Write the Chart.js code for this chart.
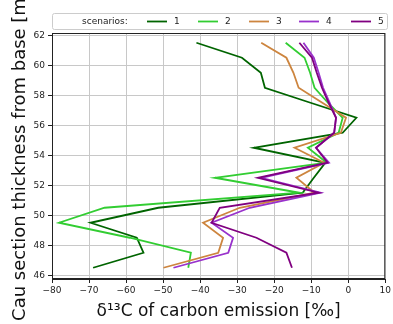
<!DOCTYPE html>
<html>
<head>
<meta charset="utf-8">
<script src="https://cdn.jsdelivr.net/npm/chart.js@4"></script>
<style>
  html, body { margin: 0; padding: 0; background: #fff; }
  #wrap { width: 393px; height: 324px; }
</style>
</head>
<body>
<div id="wrap"><canvas id="chart" width="393" height="324"></canvas></div>
<script>
// section heights (m), shared by all scenarios
const depth = [61.5, 60.5, 59.5, 58.5, 57.5, 56.5, 55.5, 54.5, 53.5, 52.5, 51.5, 50.5, 49.5, 48.5, 47.5, 46.5];

// delta13C of carbon emission (permil) for each scenario
const s1 = [-41.0, -28.7, -23.6, -22.5, -10.2, 2.2, -1.5, -25.5, -6.2, -9.3, -12.3, -51.3, -69.6, -57.1, -55.3, -68.9];
const s2 = [-16.9, -11.8, -10.3, -9.1, -5.5, -1.5, -2.6, -10.9, -5.8, -36.0, -13.2, -65.8, -78.1, -59.0, -42.5, -43.2];
const s3 = [-23.5, -16.7, -14.8, -13.4, -7.0, -0.6, -2.0, -14.5, -6.5, -14.0, -9.1, -29.3, -39.2, -33.8, -35.1, -49.9];
const s4 = [-12.1, -9.3, -8.0, -6.8, -5.0, -3.3, -3.8, -8.7, -5.2, -23.5, -7.5, -26.6, -36.9, -31.1, -32.4, -47.2];
const s5 = [-13.2, -9.8, -8.5, -7.1, -5.3, -3.3, -3.8, -8.7, -5.6, -24.4, -8.0, -34.7, -36.9, -24.8, -16.7, -15.2];

const scenarioNames = ['1', '2', '3', '4', '5'];
const scenarioColors = ['darkgreen', 'limegreen', 'peru', 'darkorchid', 'purple'];
const seriesList = [s1, s2, s3, s4, s5];

const xTicks = [-80, -70, -60, -50, -40, -30, -20, -10, 0, 10];
const yTicks = [46, 48, 50, 52, 54, 56, 58, 60, 62];

const FONT = 'DejaVu Sans';

function fmt(v) {
    return String(v).replace('-', '\u2212');
}

// matplotlib-style legend box across the top plus the closed axes frame
const frameAndLegend = {
    id: 'frameAndLegend',
    afterDraw(chart) {
        const ctx = chart.ctx;
        const a = chart.chartArea;
        ctx.save();
        ctx.strokeStyle = '#222';
        ctx.lineWidth = 1;
        ctx.strokeRect(a.left + 0.5, a.top + 0.5, a.right - a.left - 1, a.bottom - a.top - 1);

        // legend
        const bx = 52.5, by = 13.5, bw = 335, bh = 16;
        ctx.fillStyle = 'rgba(255,255,255,0.9)';
        ctx.strokeStyle = '#ccc';
        ctx.beginPath();
        ctx.roundRect(bx, by, bw, bh, 2);
        ctx.fill();
        ctx.stroke();

        ctx.font = '9px "' + FONT + '"';
        ctx.textBaseline = 'middle';
        ctx.textAlign = 'left';
        ctx.fillStyle = '#222';
        const cy = by + bh / 2;
        ctx.fillText('scenarios:', 82, cy);
        const swatchX = [147, 198, 249, 299, 351];
        scenarioNames.forEach((name, i) => {
            ctx.strokeStyle = scenarioColors[i];
            ctx.lineWidth = 1.8;
            ctx.beginPath();
            ctx.moveTo(swatchX[i], cy);
            ctx.lineTo(swatchX[i] + 20, cy);
            ctx.stroke();
            ctx.fillText(name, swatchX[i] + 27, cy);
        });
        ctx.restore();
    }
};

const datasets = seriesList.map((vals, i) => ({
    label: scenarioNames[i],
    data: vals.map((v, j) => ({ x: v, y: depth[j] })),
    borderColor: scenarioColors[i],
    backgroundColor: scenarioColors[i],
    borderWidth: 1.8,
    showLine: true,
    pointRadius: 0,
    tension: 0,
    order: 5 - i
}));

new Chart(document.getElementById('chart').getContext('2d'), {
    type: 'scatter',
    data: { datasets: datasets },
    options: {
        responsive: false,
        animation: false,
        layout: { padding: { top: 33, right: 6, left: 0, bottom: 0 } },
        plugins: {
            legend: { display: false },
            tooltip: { enabled: false }
        },
        scales: {
            x: {
                type: 'linear',
                min: -80,
                max: 10,
                afterFit(scale) { scale.height = 45; },
                afterBuildTicks(scale) { scale.ticks = xTicks.map(v => ({ value: v })); },
                grid: { color: '#c8c8c8', tickColor: '#222', tickLength: 4 },
                border: { color: '#222' },
                ticks: {
                    color: '#222',
                    font: { family: FONT, size: 9 },
                    padding: 2,
                    maxRotation: 0,
                    callback: v => fmt(v)
                },
                title: {
                    display: true,
                    text: '\u03b4\u00b9\u00b3C of carbon emission [\u2030]',
                    color: '#111',
                    font: { family: FONT, size: 17 },
                    padding: { top: 2, bottom: 2 }
                }
            },
            y: {
                type: 'linear',
                min: 45.75,
                max: 62.15,
                afterFit(scale) { scale.width = 52; },
                afterBuildTicks(scale) { scale.ticks = yTicks.map(v => ({ value: v })); },
                grid: { color: '#c8c8c8', tickColor: '#222', tickLength: 4 },
                border: { color: '#222' },
                ticks: {
                    color: '#222',
                    font: { family: FONT, size: 9 },
                    padding: 3,
                    callback: v => fmt(v)
                },
                title: {
                    display: true,
                    text: 'Cau section thickness from base [m]',
                    color: '#111',
                    font: { family: FONT, size: 18 },
                    padding: { top: 10, bottom: 0 }
                }
            }
        }
    },
    plugins: [frameAndLegend]
});
</script>
</body>
</html>
